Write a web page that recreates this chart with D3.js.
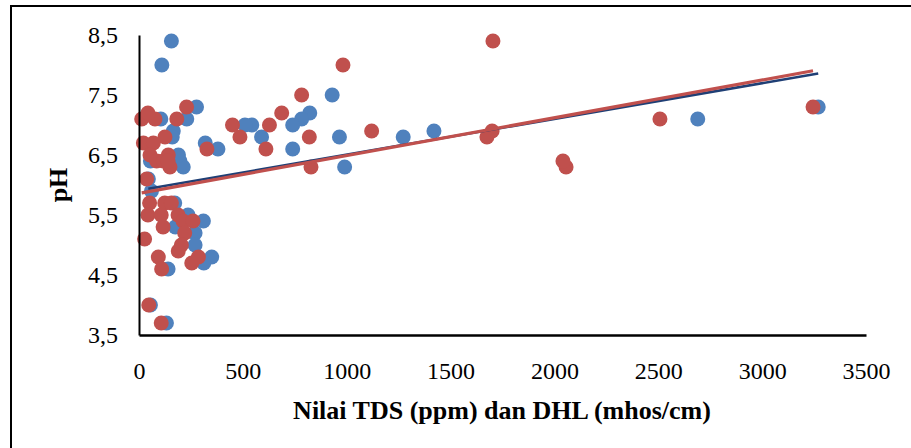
<!DOCTYPE html>
<html><head><meta charset="utf-8">
<script src="https://cdn.jsdelivr.net/npm/d3@7"></script>
<style>body{margin:0;background:#fff}svg{display:block}</style>
</head><body>
<script>
// TDS (ppm) series – blue
const tdsX = [3270,2690,1420,1272,990,965,930,822,783,740,740,590,543,510,380,319,277,230,165,160,156,110,105,197,213,190,55,45,172,236,310,213,270,270,350,312,140,55,132,175,60];
const tdsY = [7.3,7.1,6.9,6.8,6.3,6.8,7.5,7.2,7.1,7.0,6.6,6.8,7.0,7.0,6.6,6.7,7.3,7.1,6.9,6.8,8.4,8.0,7.1,6.4,6.3,6.5,6.4,6.1,5.7,5.5,5.4,5.4,5.2,5.0,4.8,4.7,4.6,4.0,3.7,5.3,5.9];
// DHL (mhos/cm) series – red
const dhlX = [3245,2508,2056,2041,1704,1700,1675,1120,982,828,820,783,687,628,611,486,450,327,229,182,77,13,43,125,21,69,53,85,141,149,117,37,51,43,124,156,107,188,212,116,260,220,27,204,189,93,109,286,254,47,107,140];
const dhlY = [7.3,7.1,6.3,6.4,8.4,6.9,6.8,6.9,8.0,6.3,6.8,7.5,7.2,7.0,6.6,6.8,7.0,6.6,7.3,7.1,7.1,7.1,7.2,6.8,6.7,6.7,6.5,6.4,6.5,6.3,6.4,6.1,5.7,5.5,5.7,5.7,5.5,5.5,5.4,5.3,5.4,5.2,5.1,5.0,4.9,4.8,4.6,4.8,4.7,4.0,3.7,6.4];
// linear trendlines [intercept, slope]
const tdsTrend = [5.912, 0.000595];
const dhlTrend = [5.860, 0.000630];
const xTicks = [0,500,1000,1500,2000,2500,3000,3500];
const yTicks = [3.5,4.5,5.5,6.5,7.5,8.5];
const xTitle = "Nilai TDS (ppm) dan DHL (mhos/cm)";
const yTitle = "pH";

const W = 911, H = 448;
const svg = d3.select("body").append("svg").attr("width", W).attr("height", H);
svg.append("rect").attr("x", 11).attr("y", 6).attr("width", 930).attr("height", 470)
  .attr("fill", "#fff").attr("stroke", "#000").attr("stroke-width", 2);

const x = d3.scaleLinear().domain([0, 3500]).range([139, 866]);
const y = d3.scaleLinear().domain([3.5, 8.5]).range([335, 35]);

const font = "'Liberation Serif','Times New Roman',serif";

function series(xs, ys, color) {
  svg.append("g").selectAll("circle").data(xs.map((v, i) => [v, ys[i]])).join("circle")
    .attr("cx", d => x(d[0])).attr("cy", d => y(d[1])).attr("r", 7.5).attr("fill", color);
}
series(tdsX, tdsY, "#4f81bd");
series(dhlX, dhlY, "#c0504d");

function trend(xs, t, color, w) {
  const x0 = d3.min(xs), x1 = d3.max(xs);
  svg.append("line").attr("x1", x(x0)).attr("y1", y(t[0] + t[1] * x0))
    .attr("x2", x(x1)).attr("y2", y(t[0] + t[1] * x1))
    .attr("stroke", color).attr("stroke-width", w);
}
trend(tdsX, tdsTrend, "#1f3f75", 2.5);
trend(dhlX, dhlTrend, "#c0504d", 3.2);

// axes
const xAxis = d3.axisBottom(x).tickValues(xTicks).tickSize(0).tickPadding(27).tickFormat(d3.format("d"));
const gx = svg.append("g").attr("transform", "translate(0,335)").call(xAxis);
gx.select(".domain").attr("stroke", "#000").attr("stroke-width", 2.5);
gx.selectAll("text").attr("font-family", font).attr("font-size", 24).attr("fill", "#000");

const yAxis = d3.axisLeft(y).tickValues(yTicks).tickSize(0).tickPadding(21)
  .tickFormat(d => d3.format(".1f")(d).replace(".", ","));
const gy = svg.append("g").attr("transform", "translate(139,0)").call(yAxis);
gy.select(".domain").attr("stroke", "#000").attr("stroke-width", 2);
gy.selectAll("text").attr("font-family", font).attr("font-size", 24).attr("fill", "#000");

svg.append("text").attr("x", 502).attr("y", 419).attr("text-anchor", "middle")
  .attr("font-family", font).attr("font-weight", "bold").attr("font-size", 26).text(xTitle);
svg.append("text").attr("transform", "translate(67,185) rotate(-90)").attr("text-anchor", "middle")
  .attr("font-family", font).attr("font-weight", "bold").attr("font-size", 26).text(yTitle);
</script>
</body></html>
